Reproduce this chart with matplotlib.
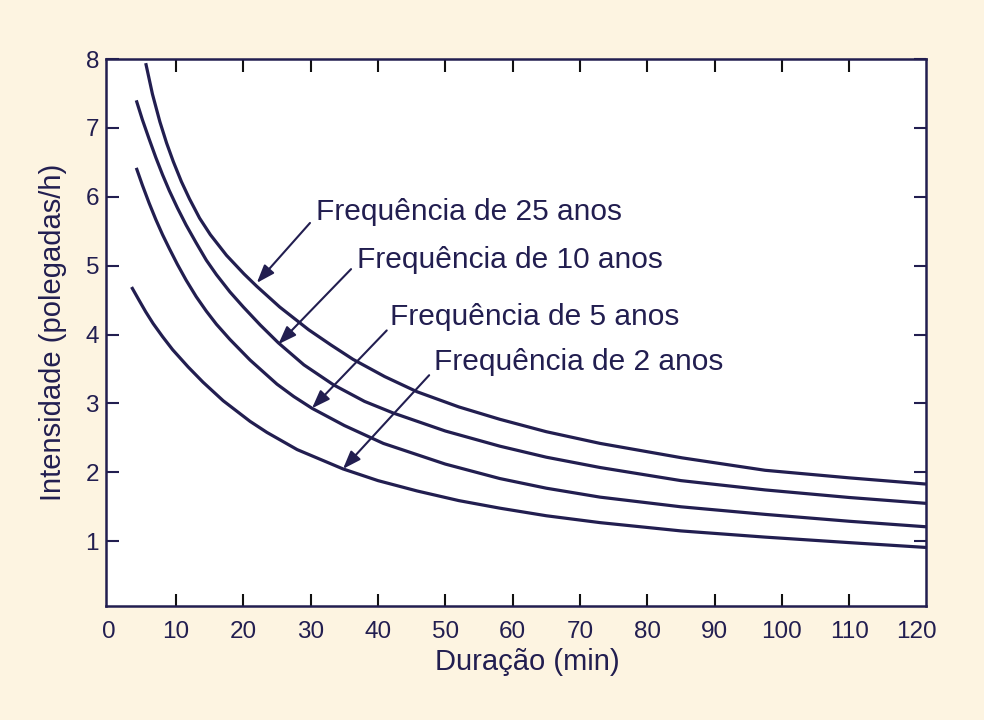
import matplotlib
matplotlib.use("Agg")
import matplotlib.pyplot as plt

plt.rcParams['font.family'] = ['Liberation Sans', 'DejaVu Sans']

# curves: duration (min), intensity (in/h)
t_25 = [5.5, 6.5, 7.6, 8.6, 9.6, 10.8, 12, 13.5, 15.1, 17.5, 20.1, 22, 25.4, 29.7, 33,
        36.3, 41, 45.8, 52, 58.1, 65, 73, 85.2, 97.5, 110, 121.4]
i_25 = [7.94, 7.49, 7.09, 6.78, 6.51, 6.22, 5.97, 5.69, 5.45, 5.15, 4.88, 4.70, 4.40, 4.07, 3.85,
        3.64, 3.39, 3.17, 2.95, 2.77, 2.59, 2.42, 2.21, 2.03, 1.92, 1.83]

t_10 = [4.1, 5, 6, 7, 8, 9, 10.2, 11.5, 13, 14.5, 16, 18, 20, 22.5, 25.2, 29, 33.4, 38,
        42.3, 50, 58.1, 65, 73, 85, 97.5, 110, 121.4]
i_10 = [7.40, 7.12, 6.84, 6.57, 6.32, 6.09, 5.84, 5.59, 5.33, 5.08, 4.87, 4.62, 4.40, 4.14, 3.88,
        3.56, 3.27, 3.03, 2.86, 2.60, 2.38, 2.22, 2.07, 1.88, 1.745, 1.635, 1.55]

t_5 = [4.1, 5, 6, 7, 8, 9, 10.2, 11.5, 13, 14.5, 16, 18, 21, 25, 27.5, 30.2, 35, 40.8, 50,
       58.1, 65, 73, 85, 97.5, 110, 121.4]
i_5 = [6.42, 6.17, 5.91, 5.67, 5.45, 5.25, 5.02, 4.79, 4.55, 4.34, 4.15, 3.93, 3.63, 3.28, 3.10,
       2.93, 2.68, 2.42, 2.12, 1.91, 1.77, 1.64, 1.50, 1.39, 1.29, 1.21]

t_2 = [3.4, 4.5, 5.5, 6.6, 8, 9.5, 11.8, 14, 17, 21, 23.5, 28, 34.8, 40, 45.8, 52, 58.1, 65,
       73, 85, 97.5, 110, 121.4]
i_2 = [4.69, 4.50, 4.33, 4.16, 3.97, 3.78, 3.53, 3.31, 3.04, 2.74, 2.58, 2.33, 2.05, 1.88, 1.73,
       1.59, 1.48, 1.37, 1.27, 1.15, 1.06, 0.98, 0.91]

labels = ["Frequência de 25 anos", "Frequência de 10 anos",
          "Frequência de 5 anos", "Frequência de 2 anos"]
# where each label sits and where its arrow starts / points (data units)
label_pos = [(30.8, 5.67), (36.9, 4.96), (41.8, 4.14), (48.3, 3.49)]
arrow_tail = [(29.9, 5.62), (36.0, 4.95), (41.3, 4.06), (47.6, 3.41)]
arrow_tip = [(22.0, 4.75), (25.2, 3.86), (30.2, 2.93), (34.8, 2.05)]

navy = '#221e50'
bg = '#fdf4e1'

fig = plt.figure(figsize=(9.84, 7.2), dpi=100, facecolor=bg)
ax = fig.add_axes([106/984, 1 - 606/720, 820/984, 547/720])
ax.set_facecolor('white')

for t, i in [(t_25, i_25), (t_10, i_10), (t_5, i_5), (t_2, i_2)]:
    ax.plot(t, i, color=navy, lw=2.3, solid_capstyle='butt', solid_joinstyle='round')

for lab, p, tail, tip in zip(labels, label_pos, arrow_tail, arrow_tip):
    ax.text(p[0], p[1], lab, fontsize=21.5, color=navy, ha='left', va='baseline')
    ax.annotate('', xy=tip, xytext=tail,
                arrowprops=dict(arrowstyle='-|>,head_length=1.1,head_width=0.4',
                                color=navy, lw=1.5, shrinkA=0, shrinkB=0))

ax.set_xlim(-0.4, 121.4)
ax.set_ylim(0.06, 8.0)
ax.set_xticks(range(0, 121, 10))
ax.set_yticks(range(1, 9))

ax.tick_params(axis='both', direction='in', length=9, width=1.5, top=True, right=True,
               labelsize=17.5, labelcolor=navy, color=navy)
ax.tick_params(axis='x', pad=11, color='#111111')
ax.tick_params(axis='y', pad=5)
xt = ax.xaxis.get_major_ticks()
for k in (0, len(xt) - 1):
    xt[k].tick1line.set_visible(False)
    xt[k].tick2line.set_visible(False)

for s in ax.spines.values():
    s.set_color(navy)
    s.set_linewidth(1.8)

fig.text(527/984, 1 - 662/720, "Duração (min)", fontsize=21, color=navy, ha='center', va='center')
fig.text(53/984, 1 - 332/720, "Intensidade (polegadas/h)", fontsize=21, color=navy,
         ha='center', va='center', rotation=90)

fig.savefig("out.png", dpi=100, facecolor=bg)
